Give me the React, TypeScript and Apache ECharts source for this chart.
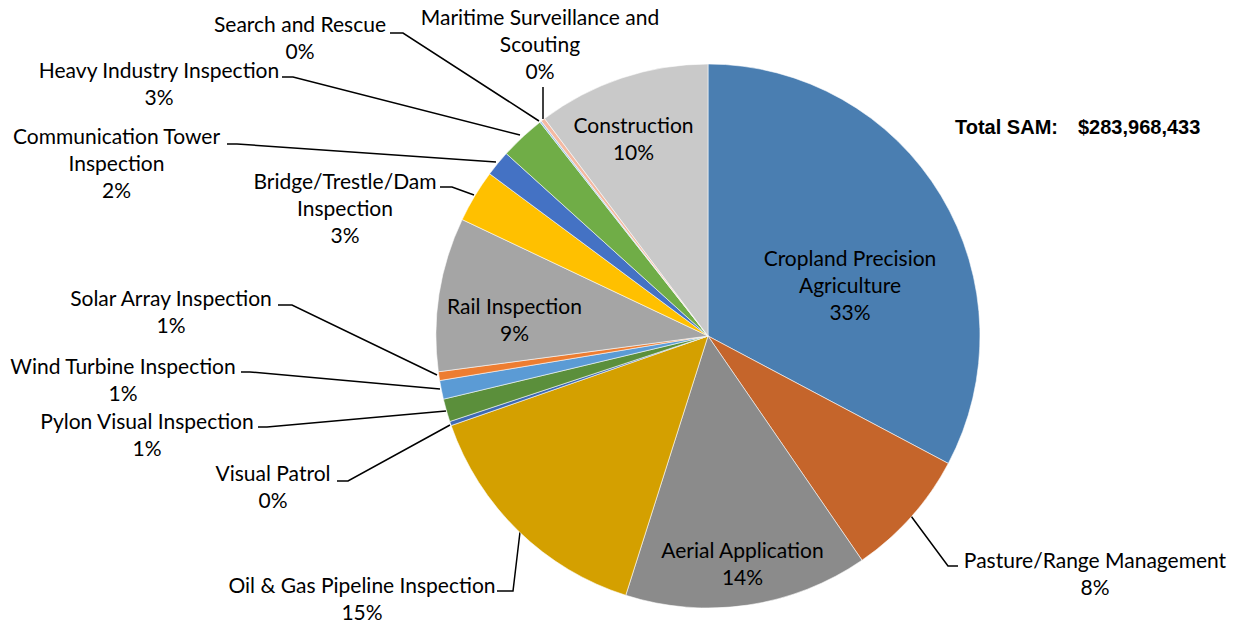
import React, { useEffect, useRef } from "react";
import * as echarts from "echarts";

// Share of total SAM (percent)
const categories = [
  "Cropland Precision\nAgriculture",
  "Pasture/Range Management",
  "Aerial Application",
  "Oil & Gas Pipeline Inspection",
  "Visual Patrol",
  "Pylon Visual Inspection",
  "Wind Turbine Inspection",
  "Solar Array Inspection",
  "Rail Inspection",
  "Bridge/Trestle/Dam\nInspection",
  "Communication Tower\nInspection",
  "Heavy Industry Inspection",
  "Search and Rescue",
  "Maritime Surveillance and\nScouting",
  "Construction",
];
const values = [32.76, 7.66, 14.47, 14.77, 0.25, 1.36, 1.11, 0.52, 9.14, 3.13, 1.53, 2.7, 0.1, 0.24, 10.26];
const colors = [
  "#4a7eb1", "#c5652b", "#8b8b8b", "#d4a000", "#3f6ab3", "#5b8f3b", "#5b9bd5", "#ed7d31",
  "#a5a5a5", "#ffc000", "#4472c4", "#70ad47", "#9dc3e6", "#f4b9a2", "#c9c9c9",
];
const insideLabels = [0, 2, 8, 14];
const totalLabel = "Total SAM:";
const totalValue = "$283,968,433";

// label block centres and leader lines (layout only)
const labelPos: number[][] = [
  [850, 284.5], [1095, 573], [742.5, 563], [362, 597.5], [273, 485.5], [147, 433.5], [123, 378.5],
  [171, 310.5], [514.5, 319], [345, 207], [116.5, 162], [159, 82.5], [300, 37], [540, 43],
  [633.5, 138],
];
const leaders: (number[][] | null)[] = [
  null,
  [[911, 516], [948, 566], [958, 566]],
  null,
  [[520, 532], [513, 591], [497, 591]],
  [[450, 425], [348, 481], [337, 481]],
  [[446, 411], [267, 427], [258, 427]],
  [[440, 389], [250, 372], [241, 372]],
  [[437, 375], [292, 305], [278, 305]],
  null,
  [[474, 195], [452, 187], [440, 187]],
  [[496, 162], [237, 144], [227, 144]],
  [[520, 135], [293, 77], [282, 77]],
  [[539, 121], [403, 33], [390, 33]],
  [[543, 119], [543, 87]],
  null,
];

export default function App() {
  const ref = useRef<HTMLDivElement>(null);
  useEffect(() => {
    if (!ref.current) return;
    const chart = echarts.init(ref.current, undefined, { renderer: "svg" });
    const total = values.reduce((a, b) => a + b, 0);
    const font = "Lato, 'Open Sans', sans-serif";
    const boldFont = "bold 20px 'Liberation Sans', Arial, sans-serif";
    chart.setOption({
      animation: false,
      backgroundColor: "#ffffff",
      graphic: [
        {
          type: "text",
          left: 955,
          top: 117,
          style: { text: totalLabel, font: boldFont, fill: "#000" },
        },
        {
          type: "text",
          left: 1078,
          top: 117,
          style: { text: totalValue, font: boldFont, fill: "#000" },
        },
      ],
      series: [
        {
          type: "pie",
          center: [708, 336],
          radius: 272,
          startAngle: 90,
          clockwise: true,
          avoidLabelOverlap: false,
          itemStyle: { borderColor: "rgba(255,255,255,0.8)", borderWidth: 0.7 },
          label: {
            show: true,
            position: "outside",
            fontFamily: font,
            fontSize: 21,
            lineHeight: 27,
            color: "#000",
            align: "center",
            formatter: (p: any) => `${p.name}\n${Math.round((p.value / total) * 100)}%`,
          },
          labelLine: { show: true, lineStyle: { color: "#000", width: 1.5 } },
          labelLayout: (params: any) => {
            const i = params.dataIndex;
            const pos = labelPos[i];
            const out: any = { x: pos[0], y: pos[1], align: "center", verticalAlign: "middle" };
            if (leaders[i]) out.labelLinePoints = leaders[i];
            return out;
          },
          data: categories.map((name, i) => ({
            name,
            value: values[i],
            itemStyle: { color: colors[i] },
            label: insideLabels.includes(i) ? { position: "inside" } : undefined,
            labelLine: insideLabels.includes(i) ? { show: false } : undefined,
          })),
        },
      ],
    });
    return () => chart.dispose();
  }, []);
  return (
    <div
      ref={ref}
      style={{ position: "fixed", left: 0, top: 0, width: 1234, height: 622, background: "#fff" }}
    />
  );
}
